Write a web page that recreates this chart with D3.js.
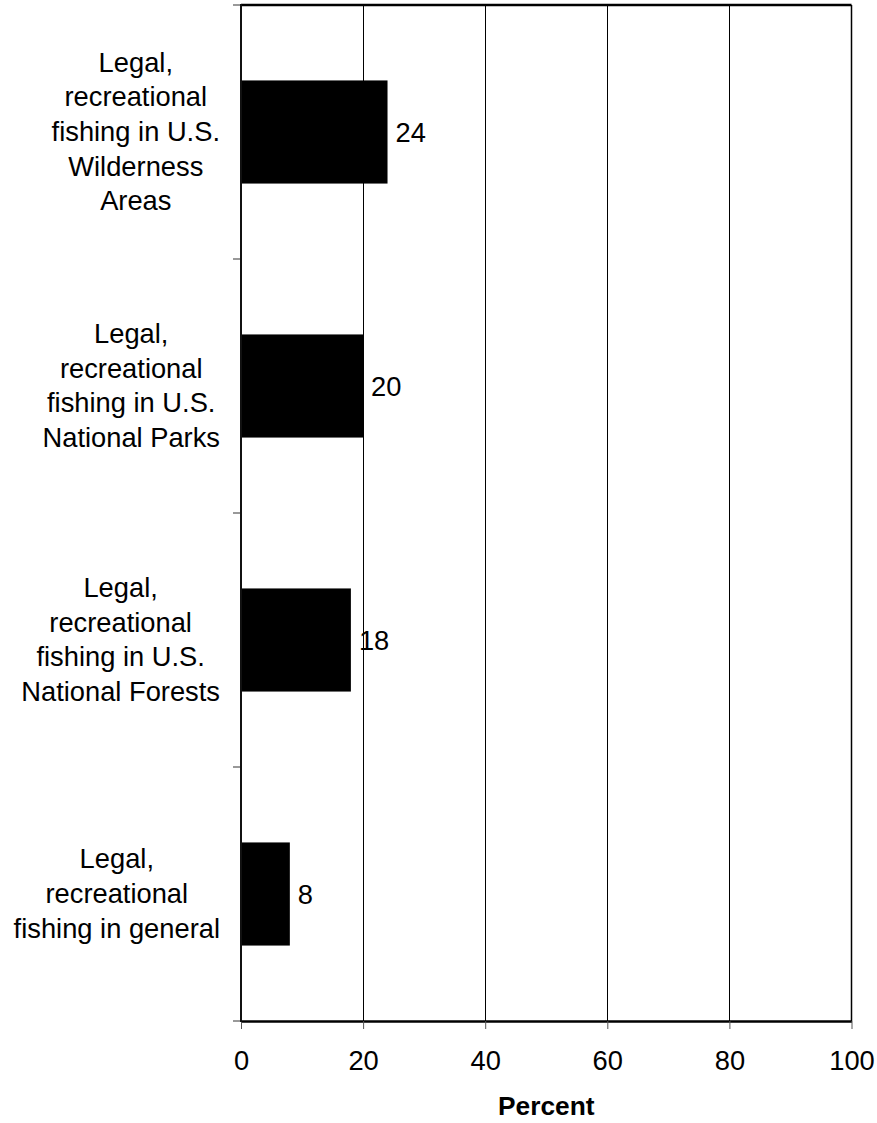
<!DOCTYPE html>
<html>
<head>
<meta charset="utf-8">
<script src="https://cdn.jsdelivr.net/npm/d3@7"></script>
<style>
  html, body { margin: 0; padding: 0; background: #fff; }
  svg { display: block; }
  text { font-family: "Liberation Sans", Arial, sans-serif; fill: #000; }
</style>
</head>
<body>
<svg id="chart" width="877" height="1123"></svg>
<script>
// ---- data ----
const categories = [
  ["Legal,", "recreational", "fishing in U.S.", "Wilderness", "Areas"],
  ["Legal,", "recreational", "fishing in U.S.", "National Parks"],
  ["Legal,", "recreational", "fishing in U.S.", "National Forests"],
  ["Legal,", "recreational", "fishing in general"]
];
const values = [24, 20, 18, 8];
const xTicks = [0, 20, 40, 60, 80, 100];
const xTitle = "Percent";

(function () {
// ---- layout ----
const svg = d3.select("#chart");
const pL = 241, pR = 851.5, pT = 5, pB = 1021;
const fontSize = 27.3, lineH = 34.6;

const x = d3.scaleLinear().domain([0, 100]).range([pL, pR]);
const idx = categories.map((d, i) => i);
const y = d3.scaleBand().domain(idx).range([pT, pB])
  .paddingInner(0.594).paddingOuter(0.297);
const yb = d3.scaleBand().domain(idx).range([pT, pB]); // boundaries for ticks

// gridlines
svg.append("g").selectAll("line").data(xTicks.filter(t => t > 0 && t < 100)).join("line")
  .attr("x1", d => Math.round(x(d)) + 0.5).attr("x2", d => Math.round(x(d)) + 0.5)
  .attr("y1", pT).attr("y2", pB)
  .attr("stroke", "#000").attr("stroke-width", 1);

// bars
svg.append("g").selectAll("rect").data(values).join("rect")
  .attr("x", x(0))
  .attr("y", (d, i) => y(i))
  .attr("width", d => x(d) - x(0))
  .attr("height", y.bandwidth())
  .attr("fill", "#000");

// value labels
svg.append("g").selectAll("text").data(values).join("text")
  .attr("x", d => x(d) + 8)
  .attr("y", (d, i) => y(i) + y.bandwidth() / 2 + 10)
  .attr("font-size", fontSize)
  .text(d => d);

// frame: top, right borders
svg.append("line").attr("x1", pL).attr("x2", pR).attr("y1", pT).attr("y2", pT)
  .attr("stroke", "#000").attr("stroke-width", 2.5);
svg.append("line").attr("x1", pR).attr("x2", pR).attr("y1", pT).attr("y2", pB)
  .attr("stroke", "#000").attr("stroke-width", 1.5);

// x axis
const xAxis = svg.append("g").attr("transform", `translate(0,${pB})`)
  .call(d3.axisBottom(x).tickValues(xTicks).tickSize(8).tickSizeOuter(0).tickPadding(22));
xAxis.select(".domain").attr("stroke", "#000").attr("stroke-width", 2.5);
xAxis.selectAll(".tick line").attr("stroke", "#555").attr("stroke-width", 1);
xAxis.selectAll(".tick text").attr("font-size", fontSize)
  .attr("font-family", '"Liberation Sans", Arial, sans-serif').attr("fill", "#000");

// y axis (line + boundary ticks)
const bounds = idx.map(i => yb(i)).concat([pB]);
svg.append("g").selectAll("line").data(bounds).join("line")
  .attr("x1", pL - 8).attr("x2", pL)
  .attr("y1", d => d).attr("y2", d => d)
  .attr("stroke", "#777").attr("stroke-width", 1.5);
svg.append("line").attr("x1", pL).attr("x2", pL).attr("y1", pT - 1).attr("y2", pB + 1)
  .attr("stroke", "#111").attr("stroke-width", 2);

// category labels: block right-aligned at 220, lines centered in block
const labelRight = 220;
const lg = svg.append("g");
categories.forEach((lines, i) => {
  const cy = y(i) + y.bandwidth() / 2;
  const g = lg.append("g");
  const texts = lines.map((ln, j) => g.append("text")
    .attr("font-size", fontSize)
    .attr("text-anchor", "middle")
    .attr("y", cy + (j - (lines.length - 1) / 2) * lineH + 9)
    .text(ln));
  const maxW = d3.max(texts, t => t.node().getComputedTextLength());
  texts.forEach(t => t.attr("x", labelRight - maxW / 2));
});

// x title
svg.append("text")
  .attr("x", (pL + pR) / 2)
  .attr("y", 1115)
  .attr("text-anchor", "middle")
  .attr("font-size", fontSize - 1)
  .attr("font-weight", "bold")
  .text(xTitle);
})();
</script>
</body>
</html>
